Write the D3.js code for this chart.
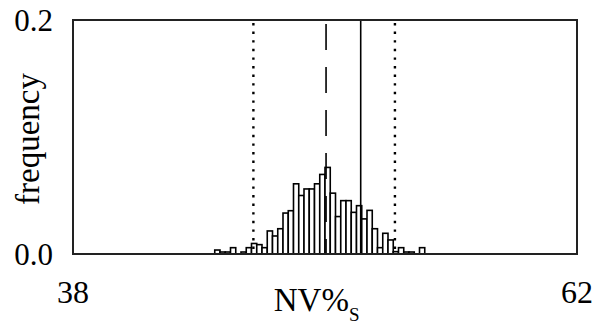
<!DOCTYPE html>
<html>
<head>
<meta charset="utf-8">
<script src="https://cdn.jsdelivr.net/npm/d3@7"></script>
<style>
  body { margin: 0; background: #fff; }
  text { font-family: "Liberation Serif", "Times New Roman", serif; fill: #000; }
</style>
</head>
<body>
<svg id="hist" width="597" height="325"></svg>
<script>
// bin left edges (bin width 0.25) and their frequencies
const binLeft = [44.75, 45.00, 45.25, 45.50, 46.00, 46.25, 46.50, 46.75, 47.00, 47.25,
                 47.50, 47.75, 48.00, 48.25, 48.50, 48.75, 49.00, 49.25, 49.50, 49.75,
                 50.00, 50.25, 50.50, 50.75, 51.00, 51.25, 51.50, 51.75, 52.00, 52.25,
                 52.50, 52.75, 53.00, 53.25, 53.50, 53.75, 54.00, 54.50];
const freq = [0.0034, 0.0017, 0.0017, 0.0054, 0.0017, 0.0054, 0.009, 0.008, 0.0054, 0.0197,
              0.0154, 0.0216, 0.035, 0.037, 0.060, 0.050, 0.0556, 0.0556, 0.060, 0.068,
              0.074, 0.052, 0.032, 0.0456, 0.0456, 0.0356, 0.0413, 0.030, 0.0373, 0.0216,
              0.0054, 0.0177, 0.012, 0.002, 0.0054, 0.0017, 0.0017, 0.0054];
const binWidth = 0.25;
const xTicks = [38, 62];
const yTicks = [0, 0.2];
const dottedLines = [46.59, 53.33];
const dashedLine = 50.05;
const solidLine = 51.70;

const svg = d3.select("#hist");
const margin = { top: 20, right: 20, bottom: 71, left: 73 };
const width = +svg.attr("width") - margin.left - margin.right;
const height = +svg.attr("height") - margin.top - margin.bottom;
const g = svg.append("g").attr("transform", `translate(${margin.left},${margin.top})`);

const x = d3.scaleLinear().domain([38, 62]).range([0, width]);
const y = d3.scaleLinear().domain([0, 0.2]).range([height, 0]);

const bins = binLeft.map((b, i) => ({ x0: b, x1: b + binWidth, v: freq[i] }));

g.selectAll("rect.bar")
  .data(bins)
  .join("rect")
  .attr("class", "bar")
  .attr("x", d => x(d.x0))
  .attr("width", d => x(d.x1) - x(d.x0))
  .attr("y", d => y(d.v))
  .attr("height", d => y(0) - y(d.v))
  .attr("fill", "#fff")
  .attr("stroke", "#000")
  .attr("stroke-width", 1.6);

// reference lines
g.selectAll("line.dot")
  .data(dottedLines)
  .join("line")
  .attr("x1", d => x(d)).attr("x2", d => x(d))
  .attr("y1", y(0.2) + 3).attr("y2", y(0))
  .attr("stroke", "#000")
  .attr("stroke-width", 2.4)
  .attr("stroke-dasharray", "2.4,6.2");

g.append("line")
  .attr("x1", x(dashedLine)).attr("x2", x(dashedLine))
  .attr("y1", y(0.2) + 4).attr("y2", y(0))
  .attr("stroke", "#000")
  .attr("stroke-width", 1.6)
  .attr("stroke-dasharray", "26,17");

g.append("line")
  .attr("x1", x(solidLine)).attr("x2", x(solidLine))
  .attr("y1", y(0.2)).attr("y2", y(0))
  .attr("stroke", "#000")
  .attr("stroke-width", 1.6);

// frame
g.append("rect")
  .attr("x", 0).attr("y", 0)
  .attr("width", width).attr("height", height)
  .attr("fill", "none")
  .attr("stroke", "#222")
  .attr("stroke-width", 2);

// tick labels
g.selectAll("text.xt")
  .data(xTicks)
  .join("text")
  .attr("class", "xt")
  .attr("x", d => x(d))
  .attr("y", height + 49)
  .attr("text-anchor", "middle")
  .style("font-size", "32px")
  .text(d => d);

g.selectAll("text.yt")
  .data(yTicks)
  .join("text")
  .attr("class", "yt")
  .attr("x", -20)
  .attr("y", d => y(d))
  .attr("dy", "0.35em")
  .attr("text-anchor", "end")
  .style("font-size", "31px")
  .text(d => d3.format(".1f")(d));

// axis titles
g.append("text")
  .attr("transform", `translate(-34,${height / 2 + 2}) rotate(-90)`)
  .attr("text-anchor", "middle")
  .style("font-size", "33px")
  .text("frequency");

const xt = g.append("text")
  .attr("x", x(49.6))
  .attr("y", height + 57)
  .attr("text-anchor", "middle")
  .style("font-size", "33px");
xt.append("tspan").text("NV%");
xt.append("tspan").attr("dy", 10).style("font-size", "19px").text("S");
</script>
</body>
</html>
